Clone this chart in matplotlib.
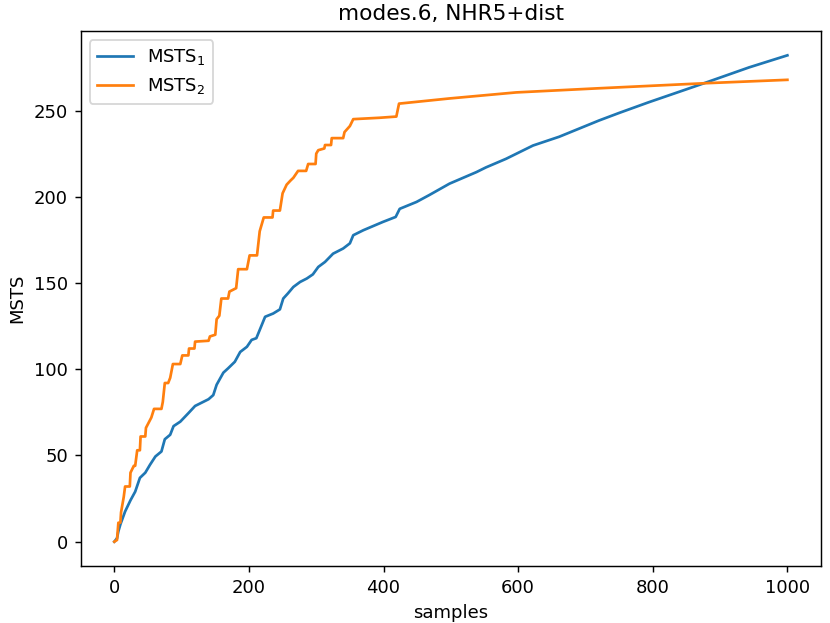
import numpy as np
import matplotlib
matplotlib.use("Agg")
import matplotlib.pyplot as plt

# vertices (samples, MSTS)
x1 = [0, 4, 6, 9, 16, 24, 31, 38, 46, 53, 61, 70, 75, 83, 88, 98, 110, 120, 140, 147,
      152, 162, 169, 179, 187, 197, 204, 211, 219, 224, 236, 246, 251, 258, 266, 276,
      286, 295, 303, 313, 325, 340, 350, 355, 370, 399, 418, 424, 449, 468, 498, 538,
      552, 582, 622, 661, 720, 750, 794, 844, 876, 943, 1000]
y1 = [0, 2, 6, 10, 17.5, 24, 29, 37, 40, 44.6, 49.4, 52.3, 59.4, 62, 67, 69.6, 74.5,
      78.7, 82.6, 85, 91, 98, 100.5, 104.3, 110, 113, 117, 118, 125.6, 130.4, 132.3,
      134.7, 141, 144, 147.7, 150.6, 152.6, 155, 159.3, 162.2, 167, 170, 173, 177.7,
      180.6, 185.4, 188.3, 193, 197, 201, 207.6, 214.3, 217, 222, 229.7, 234.8,
      244.2, 248.6, 254.8, 261.5, 265.8, 275, 282]

x2 = [0, 4, 6, 9, 10, 14, 16, 23, 24, 29, 31, 34, 38, 39, 46, 47, 51, 55, 59, 70, 72,
      75, 80, 83, 87, 98, 101, 110, 111, 119, 120, 140, 142, 150, 152, 156, 159, 169,
      171, 181, 184, 197, 201, 212, 216, 222, 235, 236, 246, 250, 256, 262, 266, 273,
      285, 288, 299, 300, 303, 312, 313, 322, 323, 340, 342, 350, 355, 394, 419, 423,
      498, 597, 720, 844, 876, 1000]
y2 = [0, 1, 11, 11, 17, 26, 32, 32, 40, 44, 44, 53, 53, 61, 61, 66, 69, 72, 77, 77, 81,
      92, 92, 95, 103, 103, 108, 108, 112, 112, 116, 116.5, 119, 120, 129, 131, 141,
      141, 145, 147, 158, 158, 166, 166, 180, 188, 188, 192, 192, 202, 207, 209.5, 211,
      215, 215, 219, 219, 225, 227, 228, 230, 230, 234, 234, 237.5, 241, 245, 245.8,
      246.5, 254, 257, 260.5, 262.9, 265.2, 265.8, 267.8]

fig = plt.figure(figsize=(830 / 130, 623 / 130), dpi=130)
ax = fig.add_axes([0.0972, 0.0915, 0.892, 0.8587])

ax.plot(x1, y1, label="MSTS$_1$")
ax.plot(x2, y2, label="MSTS$_2$")

ax.set_title("modes.6, NHR5+dist")
ax.set_xlabel("samples")
ax.set_ylabel("MSTS")
ax.legend(loc="upper left")

fig.savefig("out.png", dpi=130)
